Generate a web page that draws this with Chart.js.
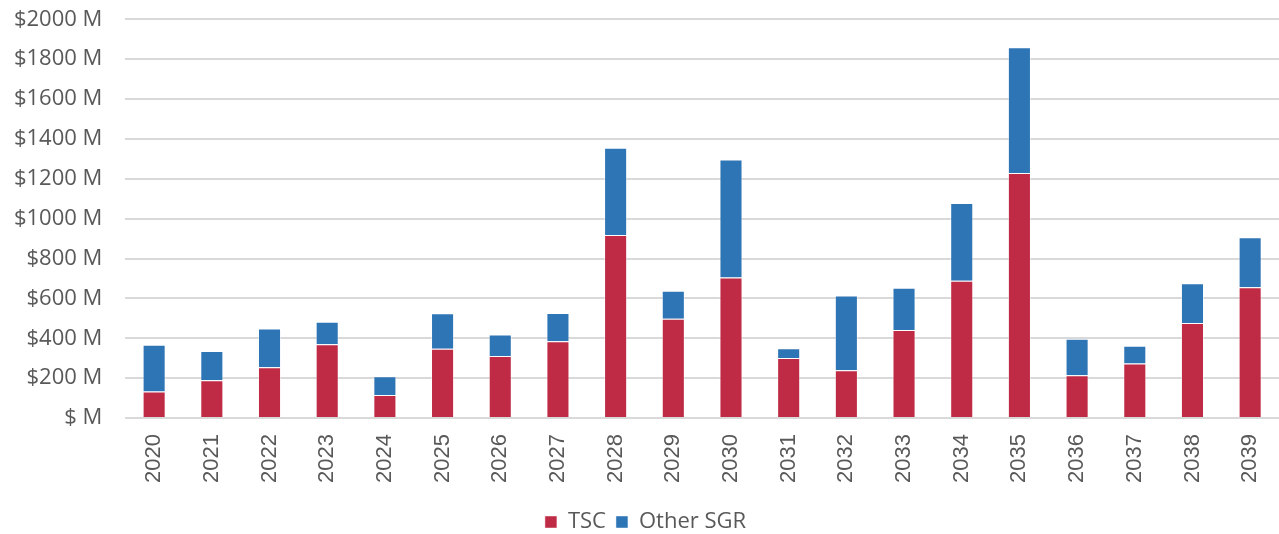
<!DOCTYPE html>
<html>
<head>
<meta charset="utf-8">
<script src="https://cdn.jsdelivr.net/npm/chart.js@4"></script>
<style>
  html, body { margin: 0; padding: 0; background: #fff; }
  #wrap { width: 1279px; height: 534px; position: relative; }
</style>
</head>
<body>
<div id="wrap"><canvas id="grafico"></canvas></div>
<script>
// datos ($ millones)
const years = ["2020", "2021", "2022", "2023", "2024", "2025", "2026", "2027", "2028", "2029",
               "2030", "2031", "2032", "2033", "2034", "2035", "2036", "2037", "2038", "2039"];
const tsc = [133, 189, 254, 370, 116, 348, 311, 385, 918, 498,
             705, 301, 239, 442, 688, 1229, 214, 274, 476, 656];
const otherSgr = [234, 147, 195, 113, 94, 177, 108, 142, 438, 140,
                  592, 49, 375, 212, 390, 631, 183, 88, 200, 251];
const yTicks = [0, 200, 400, 600, 800, 1000, 1200, 1400, 1600, 1800, 2000];

const fontFamily = "'Open Sans', 'Noto Sans', sans-serif";
const textColor = "#595959";

const ctx = document.getElementById("grafico").getContext("2d");
new Chart(ctx, {
    type: "bar",
    data: {
        labels: years,
        datasets: [
            {
                label: "TSC",
                data: tsc,
                backgroundColor: "#BF2A45",
                borderColor: "rgba(255,255,255,0.45)",
                borderWidth: 1,
                borderSkipped: "bottom",
                barPercentage: 0.8,
                categoryPercentage: 0.5
            },
            {
                label: "Other SGR",
                data: otherSgr,
                backgroundColor: "#2E75B6",
                borderColor: "rgba(255,255,255,0.45)",
                borderWidth: 1,
                borderSkipped: "bottom",
                barPercentage: 0.8,
                categoryPercentage: 0.5
            }
        ]
    },
    options: {
        responsive: true,
        maintainAspectRatio: false,
        animation: false,
        layout: { padding: { top: 19.3, right: 0, left: 12, bottom: -9 } },
        plugins: {
            legend: {
                position: "bottom",
                labels: {
                    color: textColor,
                    font: { family: fontFamily, size: 22 },
                    boxWidth: 12,
                    boxHeight: 12,
                    padding: 10
                }
            },
            tooltip: { enabled: false }
        },
        scales: {
            x: {
                stacked: true,
                grid: { display: false, drawTicks: false },
                border: { display: false },
                afterFit: axis => {
                    axis.height = 83;
                    axis.paddingLeft = 0;
                    axis.paddingRight = 0;
                },
                ticks: {
                    color: textColor,
                    font: { family: "'Liberation Sans', Arial, sans-serif", size: 22 },
                    minRotation: 90,
                    maxRotation: 90,
                    padding: 16
                }
            },
            y: {
                stacked: true,
                min: 0,
                max: 2000,
                afterBuildTicks: axis => { axis.ticks = yTicks.map(v => ({ value: v })); },
                afterFit: axis => { axis.width = 113.3; },
                grid: { color: "#D9D9D9", lineWidth: 2, drawTicks: true, tickLength: 23, tickColor: "rgba(0,0,0,0)" },
                border: { display: false },
                ticks: {
                    color: textColor,
                    font: { family: fontFamily, size: 22 },
                    padding: 0,
                    callback: v => v === 0 ? "$ M" : "$" + v + " M"
                }
            }
        }
    }
});
</script>
</body>
</html>
